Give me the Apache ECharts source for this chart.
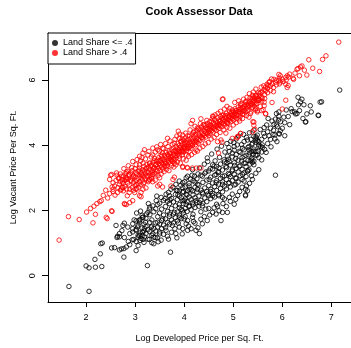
<!DOCTYPE html>
<html>
<head>
<meta charset="utf-8">
<script src="https://cdn.jsdelivr.net/npm/echarts@6/dist/echarts.min.js"></script>
<style>
  html, body { margin: 0; padding: 0; background: #fff; }
  #chart { width: 351px; height: 348px; }
</style>
</head>
<body>
<div id="chart"></div>
<script>
// Log developed price (x) vs log vacant price (y), per sq. ft.
const chartTitle = 'Cook Assessor Data';
const xTitle = 'Log Developed Price per Sq. Ft.';
const yTitle = 'Log Vacant Price Per Sq. Ft.';
const seriesNames = ['Land Share <= .4', 'Land Share > .4'];
const xTicks = [2, 3, 4, 5, 6, 7];
const yTicks = [0, 2, 4, 6];

// Parcels with land share <= .4
const landShareLow = [
  [1.65,-0.33],[2.06,-0.48],[2.00,0.30],[2.06,0.24],[2.19,0.26],[2.32,0.28],[2.18,0.50],[2.29,0.67],[2.30,0.98],[2.33,1.00],
  [2.52,0.85],[2.58,0.86],[2.68,0.79],[2.72,0.82],[2.77,0.83],[2.82,0.88],[2.89,0.95],[2.77,0.57],[3.02,0.77],[3.25,0.31],
  [2.94,1.10],[3.16,1.11],[3.34,1.01],[3.47,1.04],[3.45,1.16],[3.72,0.72],[3.68,1.12],[3.85,1.16],[2.63,1.17],[2.78,1.17],
  [2.64,1.21],[2.68,1.19],[2.61,1.54],[2.78,1.61],[2.95,1.34],[2.97,1.11],[3.06,1.24],[3.12,1.14],[3.15,1.34],[3.19,1.19],
  [3.05,1.49],[2.95,1.44],[3.08,1.69],[3.03,1.92],[3.15,1.79],[3.21,1.64],
  [4.07,3.05],[3.90,2.90],[3.83,2.80],[3.73,2.65],[3.63,2.50],[3.53,2.40],[3.43,2.30],[3.36,2.14],[3.29,2.04],[3.23,1.89],
  [3.16,1.79],[3.09,1.64],[2.95,1.59],[2.85,1.49],[2.75,1.54],[2.68,1.29],[2.89,1.29],[3.02,1.39],[3.19,1.44],[3.33,1.49],
  [3.46,1.64],[3.56,1.74],[3.70,1.89],[3.80,1.94],[3.90,2.09],[4.00,2.30],[4.07,2.60],[3.97,2.70],[4.04,1.59],[3.90,1.49],
  [3.76,1.54],[3.63,1.39],[3.50,1.34],[3.36,1.29],[3.83,1.29],[3.09,1.24],
  [3.90,2.60],[3.97,2.55],[4.04,2.50],[4.10,2.65],[4.17,2.60],[4.27,2.65],[4.37,2.55],[4.48,2.50],[4.54,2.58],[4.58,2.45],
  [4.71,2.45],[4.78,2.40],[4.92,2.40],[4.98,2.50],[5.05,2.34],[5.02,2.19],[5.29,2.60],[5.25,2.45],[3.97,2.30],[4.04,2.19],
  [4.10,2.14],[4.17,2.24],[4.24,2.30],[4.31,2.24],[4.37,2.14],[4.44,2.04],[4.58,1.94],[4.71,1.99],[4.78,1.94],[4.88,1.94],
  [3.97,1.99],[4.00,1.74],[4.07,1.69],[4.17,1.79],[3.97,1.44],[4.07,1.39],[4.14,1.44],[4.24,1.39],[4.31,1.29],[4.37,1.59],
  [4.75,1.69],
  [5.42,4.46],[5.49,4.31],[5.52,4.11],[5.59,4.01],[5.46,4.16],[5.39,4.06],[5.29,4.16],[5.22,4.11],[5.32,3.96],[5.19,3.91],
  [5.08,4.01],[5.02,3.96],[5.12,3.81],[4.98,3.76],[4.92,3.81],[4.88,3.66],[4.81,3.55],[4.92,3.50],[5.05,3.60],[5.22,3.66],
  [5.32,3.70],[5.46,3.81],[4.58,3.40],[4.48,3.50],[4.71,3.30],[4.85,3.35],[4.98,3.25],[5.12,3.35],[5.25,3.45],[5.42,3.40],
  [5.52,3.25],[4.65,3.10],[4.78,3.05],[4.92,3.10],[5.05,3.00],[5.19,3.10],[5.29,3.20],[4.31,3.30],[4.17,3.25],[4.21,3.05],
  [4.37,3.05],[4.51,2.95],[4.65,2.85],[4.78,2.80],[4.92,2.85],[5.05,2.80],[5.22,2.90],[5.39,2.95],[4.04,3.00],[3.97,2.85],
  [4.10,2.75],[4.27,2.80],
  [7.17,5.69],[6.80,5.33],[6.73,4.92],[6.50,4.96],[6.48,4.72],[6.40,5.41],[6.37,5.33],[6.33,5.24],[6.44,5.24],[6.57,5.21],
  [6.42,4.82],[6.25,5.02],[6.30,4.97],[5.93,5.02],[5.86,4.80],[5.79,4.74],[5.92,4.77],[5.96,4.72],[5.90,4.57],[5.83,4.64],
  [5.76,4.52],[5.63,4.54],[6.00,4.52],[5.94,4.34],[5.85,4.32],[5.47,4.22],[5.42,4.27],[5.86,3.08],[5.81,4.33],[5.85,4.19],
  [5.93,4.36],[6.47,4.71],[5.46,4.26],[5.49,4.13],[5.52,4.01],[5.56,3.96],[5.60,3.93],[5.32,3.86],[5.38,3.81],[5.42,3.82],
  [5.51,3.81],[5.40,3.72],[5.49,3.70],[5.58,3.55],[5.35,3.52],[5.39,3.47],[5.32,3.25],[6.77,5.32],[6.20,5.03],[6.27,4.96],
  [5.93,4.89],[6.74,4.91],[5.25,2.65],[5.25,2.48],[5.27,2.75],[4.65,1.89],[4.22,1.61],[3.90,1.79],
  [3.02,1.05],[3.02,1.42],[3.02,1.68],[3.06,1.18],[3.06,1.55],[3.06,0.92],[3.10,1.31],[3.10,1.72],[3.10,1.08],
  [3.14,1.46],[3.14,1.22],[3.14,1.85],[3.18,1.02],[3.18,1.58],[3.18,1.37],[3.22,1.29],[3.22,1.76],[3.22,1.51],
  [3.26,1.41],[3.26,1.12],[3.26,1.94],[3.30,1.63],[3.30,1.35],[3.30,1.87],[3.30,2.10],[3.34,1.24],[3.34,1.71],[3.34,1.52],
  [3.38,1.45],[3.38,1.96],[3.38,1.18],[3.42,1.62],[3.42,1.37],[3.42,2.05],[3.46,1.81],[3.46,1.49],[3.46,2.18],
  [3.50,1.58],[3.50,1.92],[3.50,1.28],[3.50,2.22],[3.54,1.69],[3.54,2.04],[3.54,1.44],[3.58,1.86],[3.58,1.55],[3.58,2.31],
  [3.62,1.74],[3.62,2.12],[3.62,1.47],[3.66,1.97],[3.66,1.63],[3.66,2.28],[3.70,1.82],[3.70,2.21],[3.70,1.58],[3.70,2.45],
  [3.74,2.06],[3.74,1.71],[3.74,2.37],[3.78,1.89],[3.78,2.26],[3.78,1.62],[3.82,2.14],[3.82,1.78],[3.82,2.49],
  [3.86,1.95],[3.86,2.33],[3.86,1.68],[3.86,2.61],[3.90,2.18],[3.90,1.86],[3.90,2.44],[3.94,2.03],[3.94,2.39],[3.94,1.75],
  [3.98,2.21],[3.98,1.92],[3.98,2.58],[4.02,2.35],[4.02,2.06],[4.02,2.72],[4.02,1.81],[4.06,2.27],[4.06,1.97],[4.06,2.48],
  [4.10,2.41],[4.10,2.12],[4.10,2.83],[4.14,2.33],[4.14,2.02],[4.14,2.64],[4.18,2.48],[4.18,2.17],[4.18,2.91],[4.18,1.88],
  [4.22,2.39],[4.22,2.71],[4.22,2.09],[4.26,2.56],[4.26,2.24],[4.26,2.97],[4.30,2.44],[4.30,2.78],[4.30,2.13],
  [4.34,2.62],[4.34,2.31],[4.34,3.08],[4.34,1.96],[4.38,2.51],[4.38,2.86],[4.38,2.22],[4.42,2.69],[4.42,2.38],[4.42,3.14],
  [4.46,2.58],[4.46,2.93],[4.46,2.27],[4.50,2.76],[4.50,2.45],[4.50,3.21],[4.50,2.06],[4.54,2.65],[4.54,3.02],[4.54,2.36],
  [4.58,2.84],[4.58,2.52],[4.58,3.27],[4.62,2.73],[4.62,3.08],[4.62,2.41],[4.66,2.91],[4.66,2.61],[4.66,3.35],[4.66,2.19],
  [4.70,2.81],[4.70,3.16],[4.70,2.49],[4.74,2.98],[4.74,2.67],[4.74,3.42],[4.78,2.88],[4.78,3.24],[4.78,2.57],
  [4.82,3.06],[4.82,2.74],[4.82,3.49],[4.82,2.35],[4.86,2.95],[4.86,3.31],[4.86,2.66],[4.90,3.13],[4.90,2.83],[4.90,3.57],
  [4.94,3.04],[4.94,3.39],[4.94,2.72],[4.98,3.21],[4.98,2.91],[4.98,3.64],[5.02,3.11],[5.02,3.46],[5.02,2.78],[5.02,3.85],
  [5.06,3.29],[5.06,2.98],[5.06,3.71],[5.10,3.18],[5.10,3.54],[5.10,2.87],[5.14,3.37],[5.14,3.06],[5.14,3.78],
  [5.18,3.26],[5.18,3.62],[5.18,2.95],[5.22,3.45],[5.22,3.15],[5.22,3.86],[5.26,3.34],[5.26,3.69],[5.26,3.04],
  [5.30,3.53],[5.30,3.22],[5.30,3.93],[5.34,3.42],[5.34,3.77],[5.38,3.61],[5.38,3.55],[5.38,4.02],[5.42,3.51],[5.42,3.88],
  [5.46,3.69],[5.46,4.09],[5.52,3.62],[5.52,3.96],[5.58,3.79],[5.58,4.18],[5.64,3.87],[5.64,4.27],[5.70,4.05],[5.70,4.41],
  [5.76,4.18],[5.82,4.46],[5.88,4.62],[5.96,4.44],[6.05,4.69],[6.12,4.88],[6.18,5.12],
  [4.41,3.42],[4.47,3.61],[4.53,3.28],[4.56,3.73],[4.63,3.52],[4.67,3.88],[4.72,3.63],[4.76,3.97],[4.83,3.79],[4.87,4.05],
  [4.91,3.93],[4.95,4.12],[5.01,4.08],[5.06,4.19],[5.11,4.28],[5.17,4.02],[5.21,4.33],[5.27,4.24],[5.33,4.38],[5.36,4.18],
  [4.44,3.18],[4.61,3.36],[4.69,3.19],[4.87,3.47],[5.03,3.38],[5.17,3.52],
  [3.61,2.36],[3.68,2.55],[3.77,2.71],[3.84,2.62],[3.93,2.77],[4.01,2.88],[4.13,2.96],[4.22,2.87],[4.28,3.12],[4.16,3.08],
  [3.87,2.48],[3.71,2.32],
  [3.41,1.17],[3.53,1.09],[3.58,1.27],[3.66,1.21],[3.74,1.33],[3.81,1.44],[3.88,1.61],[3.96,1.28],[4.09,1.52],[4.19,1.66],
  [4.28,1.47],[4.34,1.73],[4.41,1.81],[4.47,1.69],[4.52,1.86],[4.61,2.08],[4.68,2.13],[4.79,2.21],[4.86,2.12],[4.94,2.28],
  [5.09,2.46],[5.13,2.58],[5.18,2.71],[5.33,2.83],[5.37,3.06],[5.46,3.14],[3.29,1.11],[3.38,0.98],[2.86,1.05],[2.73,1.38],
  [2.98,1.71],[3.11,1.98],[3.27,2.21],[3.44,2.44],
  [5.55,4.48],[5.62,4.36],[5.68,4.62],[5.73,4.29],[5.71,4.82],[5.88,4.97],[6.03,4.86],[6.08,5.08],[6.15,4.63],[6.35,5.06],
  [6.59,5.02],[6.05,4.29],[5.67,3.78],[5.77,3.95],[5.89,4.11],[6.32,5.47]
];

// Parcels with land share > .4
const landShareHigh = [
  [1.45,1.09],[1.64,1.81],[1.86,1.72],[2.01,1.95],[2.09,2.06],[2.16,2.13],[2.22,2.21],[2.28,2.27],[2.14,1.62],[2.19,1.88],
  [2.43,1.75],[2.53,1.97],[2.31,2.30],[2.41,1.79],[2.52,1.99],[2.48,2.52],[2.55,2.58],[2.53,2.72],[2.50,3.08],[2.63,3.08],
  [2.67,3.00],[2.68,2.80],[2.72,2.65],[2.81,3.13],[2.85,3.20],[2.78,2.21],[2.82,2.18],[2.95,2.30],[2.89,2.24],[3.02,2.65],
  [3.12,2.42],[3.09,2.45],[3.30,2.95],[3.46,2.75],[3.56,2.72],[3.77,2.95],[3.80,3.02],[3.73,2.75],[3.50,2.80],[3.97,3.32],
  [4.06,3.32],[4.17,3.30],[4.25,3.30],[4.34,3.30],[3.97,3.35],[4.07,3.30],[4.70,3.76],[4.77,4.09],[4.85,4.37],[5.08,4.23],
  [5.15,4.36],[5.42,4.71],[5.44,4.49],[5.40,4.72],[5.46,5.12],[5.66,4.97],
  [3.88,4.43],[3.66,4.21],[3.80,4.06],[3.90,4.21],[3.97,4.31],[4.79,5.42],[4.59,4.88],[4.34,4.81],[4.17,4.76],[4.14,4.66],
  [4.58,4.89],[4.78,5.40],
  [7.15,7.16],[6.89,6.74],[6.82,6.63],[6.54,6.62],[6.62,6.36],[6.76,6.26],[6.50,6.15],[6.35,6.13],[6.40,6.43],[6.37,6.40],
  [6.32,6.35],[6.30,6.33],[6.22,6.05],[6.10,6.13],[6.07,6.08],[5.96,6.13],[6.12,5.83],[6.08,6.00],[5.93,5.98],[5.86,5.93],
  [5.79,5.88],[5.78,6.03],[5.74,5.95],[5.71,5.83],[5.66,5.78],[5.63,5.71],[5.59,5.63],[5.54,5.58],[5.46,5.53],[5.42,5.48],
  [5.39,5.53],[5.79,5.31],[6.07,5.38],[5.52,5.38],[5.59,5.43],[5.93,6.17],[6.00,6.02],[6.23,6.02],[6.13,6.09],[5.62,5.82],
  [6.10,5.77],[6.07,5.87],[5.96,5.94],[5.46,5.72],[5.52,5.62],[6.00,5.11],[5.73,5.92],[5.83,6.02],
  [5.15,5.27],[5.25,5.32],[5.36,5.27],[5.42,5.37],[5.63,5.21],[5.58,5.06],[5.66,4.96],[5.49,5.02],[5.25,5.02],[5.19,4.96],
  [5.05,5.06],[4.98,4.91],[4.92,4.86],[4.78,4.91],[4.44,4.61],[4.27,4.53],[4.51,4.51],[4.71,4.61],[4.88,4.69],[5.12,4.81],
  [5.32,4.86],[5.42,4.61],[5.39,4.41],[5.15,4.36],[5.08,4.26],[4.98,4.21],[4.75,4.16],[4.68,4.11],
  [5.15,5.21],[5.29,5.21],[5.39,5.42],[5.46,5.52],[5.56,5.62],[5.66,5.67],[5.63,5.32],[5.46,5.27],[5.22,5.06],[5.12,5.02],
  [5.02,4.96],[5.36,5.02],[5.49,5.06],[5.52,5.37],[5.39,5.17],
  [3.94,4.11],[4.00,3.96],[4.07,3.91],[4.17,4.01],[4.24,3.85],[3.97,3.81],[4.10,3.81],
  [2.79,2.19],[3.16,2.65],[3.02,2.80],[2.92,2.90],[2.82,2.95],[2.72,3.05],[2.62,3.15],[2.52,3.10],[2.48,2.95],[2.55,2.85],
  [2.55,2.65],[2.65,2.70],[2.75,2.70],[2.89,2.65],[2.99,2.55],[3.12,2.55],[3.29,2.95],[3.50,3.00],[3.36,3.10],[3.63,3.35],
  [3.80,3.45],[3.90,3.60],[4.04,3.70],[3.23,3.30],[3.09,3.40],[2.95,3.50],[3.16,3.76],[3.36,3.70],[3.56,3.76],[3.73,3.66],
  [3.87,3.81],[3.19,3.86],[3.36,3.91],[3.46,3.86],[3.56,3.91],[3.09,3.66],[3.26,3.70],[3.39,3.60],[3.53,3.70],[3.70,3.76],
  [3.83,3.81],[4.00,3.91],[3.02,3.40],[3.16,3.45],[3.29,3.45],[3.43,3.50],[3.60,3.55],[3.76,3.50],[3.83,3.40],
  [2.35,2.46],[2.40,2.62],[2.44,2.38],[2.58,2.75],[2.61,2.92],[2.64,2.55],[2.66,2.98],[2.59,2.47],[3.36,2.88],
  [2.70,2.62],[2.70,2.88],[2.70,3.12],[2.73,2.95],[2.73,2.71],[2.76,2.83],[2.76,3.05],[2.76,2.60],[2.79,2.92],[2.79,2.74],
  [2.82,2.66],[2.82,3.01],[2.82,3.18],[2.85,2.84],[2.85,2.97],[2.88,2.78],[2.88,3.08],[2.88,2.55],[2.91,2.93],[2.91,3.15],
  [2.94,2.70],[2.94,2.99],[2.94,3.22],[2.97,2.86],[2.97,3.07],[3.00,2.76],[3.00,3.02],[3.00,3.28],[3.03,2.91],[3.03,3.12],
  [3.03,2.68],[3.06,2.98],[3.06,3.20],[3.06,2.82],[3.09,2.88],[3.09,3.06],[3.09,3.30],[3.12,3.00],[3.12,3.16],[3.12,2.79],
  [3.15,2.93],[3.15,3.24],[3.15,3.08],[3.18,3.03],[3.18,3.35],[3.18,2.86],[3.21,3.12],[3.21,2.96],[3.21,3.27],[3.24,3.05],
  [3.24,3.19],[3.24,3.41],[3.27,2.92],[3.27,3.15],[3.27,3.33],[3.30,3.08],[3.30,3.26],[3.30,3.45],[3.33,3.18],[3.33,3.02],
  [3.33,3.38],[3.36,3.23],[3.36,3.47],[3.36,3.10],[3.39,3.31],[3.39,3.15],[3.39,3.52],[3.42,3.26],[3.42,3.40],[3.42,3.12],
  [3.45,3.34],[3.45,3.55],[3.45,3.21],[3.48,3.29],[3.48,3.44],[3.48,3.62],[3.51,3.38],[3.51,3.22],[3.51,3.53],[3.54,3.46],
  [3.54,3.33],[3.54,3.66],[3.57,3.41],[3.57,3.58],[3.57,3.27],[3.60,3.50],[3.60,3.36],[3.60,3.69],[3.63,3.45],[3.63,3.62],
  [3.63,3.78],[3.66,3.54],[3.66,3.39],[3.66,3.71],[3.69,3.60],[3.69,3.48],[3.69,3.82],[3.72,3.57],[3.72,3.74],[3.72,3.43],
  [3.75,3.65],[3.75,3.52],[3.75,3.86],[3.78,3.71],[3.78,3.58],[3.78,3.92],[3.81,3.68],[3.81,3.84],[3.81,3.55],[3.84,3.77],
  [3.84,3.62],[3.84,3.96],[3.87,3.73],[3.87,3.89],[3.87,4.05],[3.90,3.82],[3.90,3.67],[3.90,3.99],[3.93,3.78],[3.93,3.94],
  [3.93,4.12],[3.96,3.86],[3.96,4.03],[3.96,3.71],[3.99,3.92],[3.99,3.79],[3.99,4.15],[4.02,3.88],[4.02,4.06],[4.02,4.22],
  [4.05,3.97],[4.05,3.83],[4.05,4.13],[4.08,4.02],[4.08,4.18],[4.08,3.90],[4.11,3.95],[4.11,4.09],[4.11,4.28],[4.14,4.05],
  [4.14,3.91],[4.14,4.21],[4.17,4.12],[4.17,3.99],[4.17,4.34],[4.20,4.08],[4.20,4.25],[4.20,4.41],[4.23,4.16],[4.23,4.02],
  [4.23,4.33],[4.26,4.22],[4.26,4.09],[4.26,4.45],[4.29,4.18],[4.29,4.36],[4.29,4.06],[4.32,4.27],[4.32,4.14],[4.32,4.49],
  [4.35,4.24],[4.35,4.40],[4.35,4.56],[4.38,4.32],[4.38,4.19],[4.38,4.47],[4.41,4.29],[4.41,4.44],[4.41,4.62],[4.44,4.37],
  [4.44,4.25],[4.44,4.53],[4.47,4.34],[4.47,4.50],[4.47,4.66],[4.50,4.42],[4.50,4.30],[4.50,4.58],[4.53,4.47],[4.53,4.62],
  [4.53,4.36],[4.56,4.45],[4.56,4.57],[4.56,4.73],[4.59,4.52],[4.59,4.40],[4.59,4.68],[4.62,4.49],[4.62,4.64],[4.62,4.79],
  [4.65,4.58],[4.65,4.46],[4.65,4.71],[4.68,4.55],[4.68,4.69],[4.68,4.84],[4.71,4.63],[4.71,4.52],[4.71,4.77],[4.74,4.60],
  [4.74,4.74],[4.74,4.88],[4.77,4.68],[4.77,4.57],[4.77,4.82],[4.80,4.66],[4.80,4.79],[4.80,4.93],[4.83,4.73],[4.83,4.62],
  [4.83,4.86],[4.86,4.71],[4.86,4.84],[4.86,4.98],[4.89,4.78],[4.89,4.67],[4.89,4.91],[4.92,4.76],[4.92,4.89],[4.92,5.04],
  [4.95,4.83],[4.95,4.72],[4.95,4.97],[4.98,4.81],[4.98,4.94],[4.98,5.08],[5.01,4.88],[5.01,5.02],[5.01,4.77],[5.04,4.86],
  [5.04,4.99],[5.04,5.12],[5.07,4.93],[5.07,5.06],[5.07,4.82],[5.10,4.91],[5.10,5.04],[5.10,5.17],[5.14,4.98],[5.14,5.11],
  [5.14,4.87],[5.18,5.03],[5.18,5.15],[5.18,5.26],[5.22,5.08],[5.22,5.19],[5.22,4.95],[5.26,5.12],[5.26,5.24],[5.26,5.35],
  [5.30,5.17],[5.30,5.29],[5.30,5.06],[5.34,5.21],[5.34,5.33],[5.34,5.45],[5.38,5.26],[5.38,5.14],[5.38,5.39],[5.43,5.31],
  [5.43,5.44],[5.43,5.20],[5.48,5.36],[5.48,5.49],[5.48,5.27],[5.53,5.41],[5.53,5.52],[5.58,5.47],[5.58,5.35],[5.64,5.55],
  [5.64,5.43],[5.70,5.61],[5.70,5.74],[5.76,5.68],[5.76,5.82],[5.82,5.77],[5.82,5.64],[5.88,5.85],[5.88,5.99],[5.94,5.88],
  [5.94,6.06],[6.02,5.95],[6.15,6.18],[6.26,6.21],[6.45,6.30],
  [2.77,3.28],[2.86,3.37],[2.93,3.31],[3.04,3.56],[3.11,3.52],[3.14,3.62],[3.21,3.58],[3.28,3.81],[3.33,3.64],[3.41,3.79],
  [3.44,3.95],[3.49,3.82],[3.52,4.02],[3.58,3.89],[3.62,4.05],[3.67,3.96],[3.71,4.13],[3.76,4.02],[3.81,4.18],[3.85,4.28],
  [3.91,4.34],[3.96,4.19],[4.03,4.37],[4.07,4.29],[4.12,4.47],[4.19,4.39],[4.22,4.58],[4.29,4.51],[4.33,4.66],[4.39,4.63],
  [4.46,4.76],[4.52,4.72],[4.57,4.81],[4.63,4.93],[4.69,4.98],[4.74,5.04],[4.82,5.11],[4.87,5.19],[4.93,5.13],[5.03,5.31],
  [5.11,5.36],[5.21,5.41],[5.28,5.47],[5.33,5.58],[5.41,5.63],[5.57,5.78],[5.69,5.87],
  [2.84,2.45],[2.97,2.62],[3.07,2.71],[3.17,2.82],[3.22,2.69],[3.27,2.88],[3.34,2.97],[3.41,2.93],[3.47,3.07],[3.53,3.12],
  [3.59,3.19],[3.64,3.26],[3.69,3.22],[3.74,3.37],[3.79,3.33],[3.86,3.48],[3.92,3.45],[3.98,3.58],[4.04,3.54],[4.09,3.66],
  [4.15,3.71],[4.21,3.78],[4.27,3.82],[4.32,3.91],[4.38,3.96],[4.43,4.04],[4.49,4.08],[4.55,4.19],[4.61,4.24],[4.66,4.33],
  [4.73,4.39],[4.81,4.47],[4.87,4.55],[4.93,4.52],[5.00,4.62],[5.06,4.69],[5.13,4.74],[5.19,4.82],[5.27,4.91],[5.35,4.97],
  [5.45,5.08],[5.55,5.19],[5.61,5.09],
  [2.74,2.87],[2.81,2.99],[2.87,3.11],[2.96,3.03],[3.01,3.17],[3.08,3.23],[3.13,3.09],[3.19,3.21],[3.26,3.05],[3.31,3.36],
  [3.37,3.29],[3.43,3.41],[3.49,3.52],[3.55,3.57],[3.61,3.43],[3.68,3.67],[3.73,3.55],[3.79,3.81],[3.85,3.69],[3.91,3.91],
  [3.95,3.82],[4.01,4.01],[4.06,4.08],[4.13,3.98],[4.18,4.19],[4.24,4.13],[4.31,4.31],[4.37,4.24],[4.43,4.43],[4.48,4.38],
  [4.54,4.54],[4.61,4.56],[4.67,4.62],[4.72,4.72],[4.79,4.74],[4.84,4.91],[4.91,4.84],[4.97,5.01],[5.05,4.92],[5.12,5.09],
  [5.20,5.14],[5.31,5.24],[5.40,5.33],[5.50,5.43]
];

const fontFamily = '"Liberation Sans", Arial, Helvetica, sans-serif';
const xRange = { min: 1.2235, max: 7.4 };

const chart = echarts.init(document.getElementById('chart'), null, { renderer: 'canvas' });

chart.setOption({
  animation: false,
  backgroundColor: '#fff',
  graphic: [{
    type: 'text',
    x: 199,
    y: 11.5,
    style: {
      text: chartTitle,
      font: 'bold 11px ' + fontFamily,
      fill: '#000',
      textAlign: 'center',
      textVerticalAlign: 'middle'
    }
  }],
  legend: {
    orient: 'vertical',
    left: 48,
    top: 33,
    padding: [5, 3, 6, 4],
    itemGap: 0,
    itemWidth: 6,
    itemHeight: 6,
    icon: 'circle',
    borderColor: '#000',
    borderWidth: 1,
    backgroundColor: '#fff',
    textStyle: { fontFamily, fontSize: 9, color: '#000', lineHeight: 10 },
    data: [
      { name: seriesNames[0], itemStyle: { color: '#000000', borderWidth: 0 } },
      { name: seriesNames[1], itemStyle: { color: '#ff0000', borderWidth: 0 } }
    ]
  },
  grid: {
    left: 48,
    top: 33,
    width: 304.5,
    height: 273,
    show: false
  },
  xAxis: [
    {
      type: 'value',
      position: 'bottom',
      min: xRange.min,
      max: xRange.max,
      name: xTitle,
      nameLocation: 'middle',
      nameGap: 32,
      nameTextStyle: { fontFamily, fontSize: 9, color: '#000' },
      axisLine: { show: true, onZero: false, lineStyle: { color: '#000', width: 1 } },
      splitLine: { show: false },
      axisTick: { show: true, length: 5, lineStyle: { color: '#000', width: 1 }, customValues: xTicks },
      axisLabel: { fontFamily, fontSize: 9, color: '#000', margin: 11, customValues: xTicks }
    },
    {
      // top edge of the plot frame
      type: 'value',
      position: 'top',
      min: xRange.min,
      max: xRange.max,
      axisLine: { show: true, onZero: false, lineStyle: { color: '#000', width: 1 } },
      axisTick: { show: false },
      axisLabel: { show: false },
      splitLine: { show: false }
    }
  ],
  yAxis: {
    type: 'value',
    min: -0.807,
    max: 7.44,
    name: yTitle,
    nameLocation: 'middle',
    nameGap: 30,
    nameRotate: 90,
    nameTextStyle: { fontFamily, fontSize: 9, color: '#000' },
    axisLine: { show: true, onZero: false, lineStyle: { color: '#000', width: 1 } },
    splitLine: { show: false },
    axisTick: { show: true, length: 6, lineStyle: { color: '#000', width: 1 }, customValues: yTicks },
    axisLabel: { fontFamily, fontSize: 9, color: '#000', margin: 11, rotate: 90, customValues: yTicks }
  },
  series: [
    {
      name: seriesNames[0],
      type: 'scatter',
      symbol: 'circle',
      symbolSize: 4.5,
      data: landShareLow,
      itemStyle: { color: 'rgba(0,0,0,0)', borderColor: '#000000', borderWidth: 1 },
      emphasis: { disabled: true }
    },
    {
      name: seriesNames[1],
      type: 'scatter',
      symbol: 'circle',
      symbolSize: 4.5,
      data: landShareHigh,
      itemStyle: { color: 'rgba(0,0,0,0)', borderColor: '#ff0000', borderWidth: 1 },
      emphasis: { disabled: true }
    }
  ]
});
</script>
</body>
</html>
